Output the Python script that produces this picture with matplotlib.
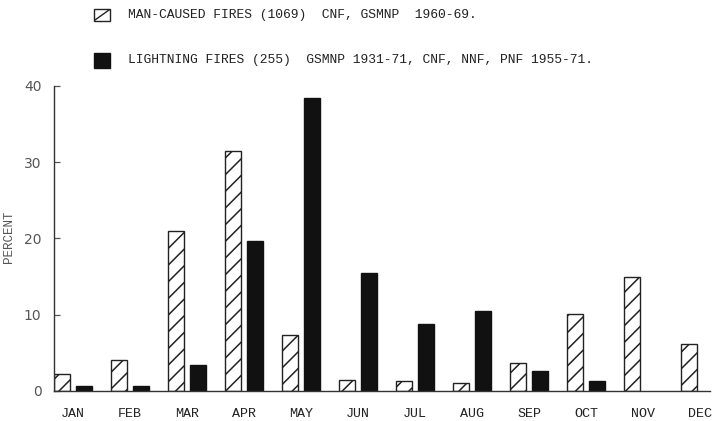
"""
monthly fire occurrence, man-caused vs lightning, as paired bars
"""
import numpy as np
from matplotlib import pyplot as plt
from matplotlib.patches import Rectangle
from matplotlib.lines import Line2D

months = ["JAN", "FEB", "MAR", "APR", "MAY", "JUN",
          "JUL", "AUG", "SEP", "OCT", "NOV", "DEC"]
man_caused = [2.2, 4.0, 20.9, 31.4, 7.4, 1.4, 1.3, 1.1, 3.7, 10.1, 14.9, 6.2]
lightning = [0.65, 0.6, 3.4, 19.6, 38.4, 15.4, 8.8, 10.5, 2.6, 1.3, np.nan, np.nan]
yticks = [0, 10, 20, 30, 40]

label_man = "MAN-CAUSED FIRES (1069)  CNF, GSMNP  1960-69."
label_light = "LIGHTNING FIRES (255)  GSMNP 1931-71, CNF, NNF, PNF 1955-71."

mono = "Liberation Mono"
ink = "#222222"
grey = "#555555"

plt.rcParams["hatch.linewidth"] = 1.1
plt.rcParams["hatch.color"] = ink

W, H = 712, 421
fig = plt.figure(figsize=(W / 100, H / 100), dpi=100)
ax = fig.add_axes([54 / W, 30 / H, (710 - 54) / W, (335.3 - 30) / H])

x = np.arange(len(months))
width = 0.28
offset = 0.193
ax.bar(x - offset, man_caused, width, facecolor="white", edgecolor=ink,
       linewidth=1.0, hatch="//")
ax.bar(x + offset, lightning, width, color="#111111", edgecolor="#111111",
       linewidth=1.0)

ax.set_xlim(-0.333, 11.175)
ax.set_ylim(0, 40)
ax.set_yticks(yticks)
ax.set_xticks(x)
ax.set_xticklabels(months, fontfamily=mono, fontsize=9.6, color=ink)
ax.tick_params(axis="x", length=0, pad=12)
ax.tick_params(axis="y", direction="in", length=4, width=0.9, color=grey,
               labelsize=10, labelcolor=grey, pad=9)
for lab in ax.get_yticklabels():
    lab.set_fontfamily("DejaVu Sans")

for side in ["top", "right"]:
    ax.spines[side].set_visible(False)
for side in ["left", "bottom"]:
    ax.spines[side].set_color("#333333")
    ax.spines[side].set_linewidth(1.0)

ax.set_ylabel("PERCENT", fontfamily=mono, fontsize=9, color=grey)
ax.yaxis.set_label_coords(15 / W, (421 - 237) / H, transform=fig.transFigure)

# legend drawn by hand, above the plot
fig.add_artist(Rectangle((94 / W, 1 - 21 / H), 16 / W, 12 / H,
                         transform=fig.transFigure, facecolor="white",
                         edgecolor=ink, linewidth=1.0))
fig.add_artist(Line2D([95 / W, 109 / W], [1 - 20 / H, 1 - 10 / H],
                      transform=fig.transFigure, color=ink, linewidth=1.0))
fig.add_artist(Rectangle((94 / W, 1 - 68 / H), 16 / W, 15 / H,
                         transform=fig.transFigure, facecolor="#111111",
                         edgecolor="#111111", linewidth=1.0))
fig.text(128 / W, 1 - 15 / H, label_man, fontfamily=mono, fontsize=9.4,
         color=ink, va="center", ha="left")
fig.text(128 / W, 1 - 60 / H, label_light, fontfamily=mono, fontsize=9.4,
         color=ink, va="center", ha="left")

plt.savefig("out.png", dpi=100)
